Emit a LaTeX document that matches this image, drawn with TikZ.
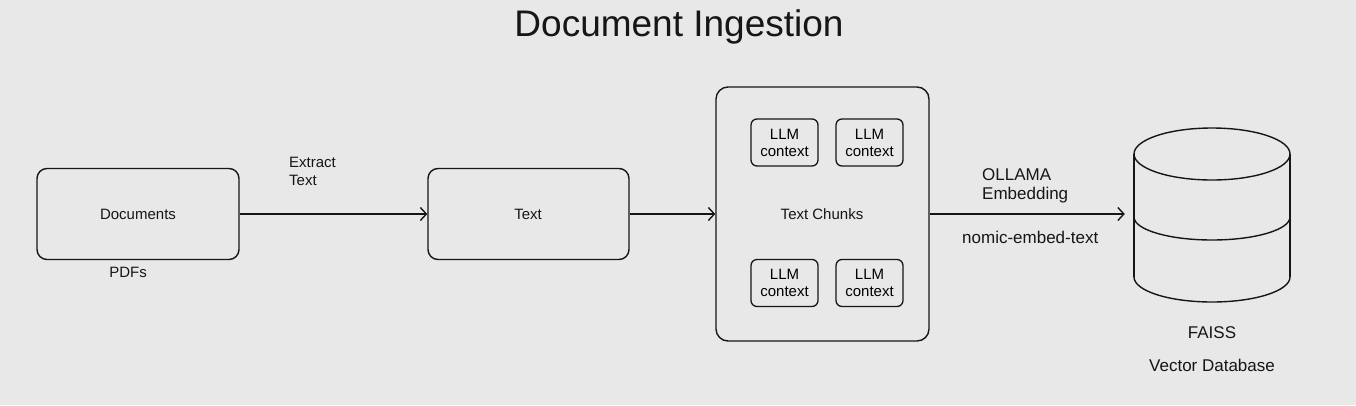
\documentclass[tikz,border=0pt]{standalone}
\usepackage{fontspec}
\setmainfont{Liberation Sans}
\usetikzlibrary{arrows.meta}
\definecolor{bg}{HTML}{E8E8E8}
\definecolor{ink}{HTML}{161616}
\tikzset{
  x=1pt, y=-1pt,
  box/.style={draw=ink, line width=1.4pt, rounded corners=10pt, inner sep=0pt, fill=none},
  small/.style={draw=ink, line width=1.3pt, rounded corners=6pt, inner sep=0pt, align=center, font=\fontsize{15}{17}\selectfont},
  lbl/.style={text=ink, inner sep=0pt, font=\fontsize{15}{18}\selectfont},
  big/.style={text=ink, inner sep=0pt, font=\fontsize{17}{19}\selectfont},
  conn/.style={draw=ink, line width=1.6pt, -{Straight Barb[length=6pt,width=13pt,line width=1.4pt]}},
}
\begin{document}
\begin{tikzpicture}
\fill[bg] (0,0) rectangle (1356,405);
\useasboundingbox (0,0) rectangle (1356,405);

\node[text=ink, inner sep=0pt, font=\fontsize{37}{40}\selectfont] (title) at (679,27) {Document Ingestion};

% boxes
\node[box, minimum width=202pt, minimum height=91pt] (docs) at (138,214) {};
\node[lbl] (docst) at (138,214) {Documents};
\node[lbl] (pdfs) at (128,272) {PDFs};

\node[box, minimum width=201pt, minimum height=91pt] (text) at (528.5,214) {};
\node[lbl] (textt) at (528,214) {Text};

\node[box, rounded corners=12pt, minimum width=213pt, minimum height=254pt] (chunks) at (822.5,214) {};
\node[lbl] (chunkst) at (822,214) {Text Chunks};

\node[small, minimum width=67pt, minimum height=47pt] (c1) at (784.5,142.5) {LLM\\context};
\node[small, minimum width=67pt, minimum height=47pt] (c2) at (869.5,142.5) {LLM\\context};
\node[small, minimum width=67pt, minimum height=47pt] (c3) at (784.5,283) {LLM\\context};
\node[small, minimum width=67pt, minimum height=47pt] (c4) at (869.5,283) {LLM\\context};

% database cylinder
\node[minimum width=156pt, minimum height=174pt, inner sep=0pt] (db) at (1212,215) {};
\begin{scope}[draw=ink, line width=1.4pt]
\draw (1212,154) ellipse [x radius=78, y radius=26];
\draw (1134,154) -- (1134,277);
\draw (1290,154) -- (1290,277);
\draw (1134,217) arc [start angle=180, end angle=0, x radius=78, y radius=23];
\draw (1134,277) arc [start angle=180, end angle=0, x radius=78, y radius=25];
\end{scope}
\node[big] (faiss) at (1212,333) {FAISS};
\node[big] (vdb) at (1212,365) {Vector Database};

% connectors
\draw[conn] (docs.east) -- (text.west);
\draw[conn] (text.east) -- (chunks.west);
\draw[conn, shorten >=9pt] (chunks.east) -- (db.west |- chunks.east);

\node[lbl, align=left, anchor=west] (extract) at (289,171) {Extract\\Text};
\node[big, align=left, anchor=west] (ollama) at (982,186) {OLLAMA\\Embedding};
\node[big, anchor=west] (nomic) at (962,237) {nomic-embed-text};
\end{tikzpicture}
\end{document}
